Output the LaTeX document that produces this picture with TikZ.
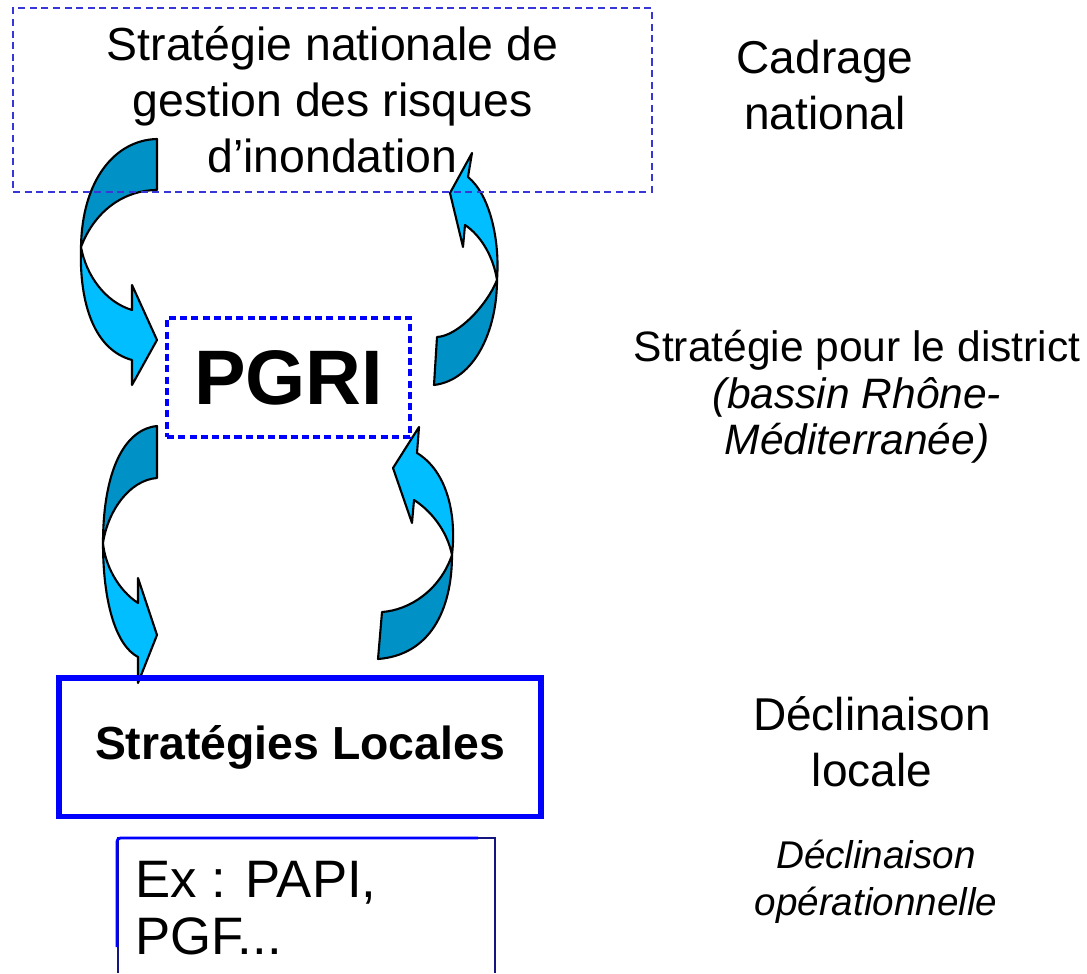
\documentclass[tikz,border=0pt]{standalone}
\usepackage{fontspec}
\setmainfont{Liberation Sans}
\usetikzlibrary{positioning}
\definecolor{ribbondark}{RGB}{0,146,199}
\definecolor{ribbonlight}{RGB}{0,190,255}
\definecolor{dashblue}{RGB}{55,55,215}
\definecolor{framenavy}{RGB}{20,20,130}
\tikzstyle{dashbox}     = [draw=dashblue, line width=1.5pt, dash pattern=on 4pt off 2.6pt, inner sep=0pt]
\tikzstyle{pgribox}     = [draw=blue, line width=1.8pt, dash pattern=on 4pt off 2.4pt, inner sep=0pt]
\tikzstyle{localbox}    = [draw=blue, line width=3.4pt, inner sep=0pt]
\tikzstyle{ribbonback}  = [fill=ribbondark, draw=black, line width=1.2pt, line join=round]
\tikzstyle{ribbonfront} = [fill=ribbonlight, draw=black, line width=1.2pt, line join=round]
\tikzstyle{side}        = [align=center, inner sep=0pt]

\begin{document}
\begin{tikzpicture}[x=0.02cm, y=-0.02cm]
        \useasboundingbox (0,0) rectangle (1087,973);

        % descending arrow, national -> PGRI
        \filldraw[ribbonback] (157,139) .. controls (115,140) and (82,180) .. (81,247)
            .. controls (95,210) and (125,190) .. (157,190) -- cycle;
        \filldraw[ribbonfront] (81,247) .. controls (79,305) and (95,350) .. (132,360)
            -- (132,385) -- (157,340) -- (132,285) -- (132,310)
            .. controls (105,302) and (86,275) .. (81,247) -- cycle;

        % rising arrow, PGRI -> national
        \filldraw[ribbonback] (434,385) -- (437,337) .. controls (458,336) and (487,305) .. (497,280)
            .. controls (497,330) and (475,380) .. (434,385) -- cycle;
        \filldraw[ribbonfront] (497,280) .. controls (500,240) and (490,195) .. (468,177)
            -- (472,153) -- (450,193) -- (463,247) -- (465,225)
            .. controls (480,235) and (493,255) .. (497,280) -- cycle;

        % descending arrow, PGRI -> local
        \filldraw[ribbonback] (157,426) .. controls (120,430) and (103,480) .. (103,543)
            .. controls (108,510) and (130,480) .. (157,478) -- cycle;
        \filldraw[ribbonfront] (103,543) .. controls (103,600) and (115,645) .. (138,657)
            -- (138,683) -- (157,635) -- (138,578) -- (138,603)
            .. controls (118,590) and (105,565) .. (103,543) -- cycle;

        % rising arrow, local -> PGRI
        \filldraw[ribbonback] (378,659) -- (382,612) .. controls (410,610) and (440,590) .. (452,555)
            .. controls (452,610) and (430,655) .. (378,659) -- cycle;
        \filldraw[ribbonfront] (452,555) .. controls (457,510) and (445,470) .. (417,453)
            -- (419,427) -- (393,468) -- (412,523) -- (414,500)
            .. controls (430,510) and (447,530) .. (452,555) -- cycle;

        % boxes
        \node[dashbox, minimum width=12.78cm, minimum height=3.68cm, align=center,
              font=\fontsize{26.4}{31.9}\selectfont] (nat) at (332.5,100)
              {Stratégie nationale de\\gestion des risques\\d’inondation};
        \node[pgribox, minimum width=4.86cm, minimum height=2.38cm,
              font=\fontsize{44}{50}\selectfont\bfseries] (pgri) at (288.5,377.5) {PGRI};
        \node[localbox, minimum width=9.66cm, minimum height=2.78cm,
              font=\fontsize{26.4}{30}\selectfont\bfseries] (loc) at (300,747) {Stratégies Locales};

        \draw[framenavy, line width=0.6pt] (118,973) |- (495,838) -- (495,973);
        \draw[blue, line width=1.6pt, rounded corners=2pt] (117,947) |- (478,838);
        \node[anchor=west, align=left, inner sep=0pt,
              font=\fontsize{30}{32.4}\selectfont] (ex) at (135,908) {Ex : PAPI,\\PGF...};

        % labels on the right
        \node[side, font=\fontsize{26.2}{31.5}\selectfont] (cadre) at (825,85) {Cadrage\\national};
        \node[side, font=\fontsize{24.2}{26.5}\selectfont] (district) at (857,397)
              {Stratégie pour le district\\\textit{(bassin Rhône-}\\\textit{Méditerranée)}};
        \node[side, font=\fontsize{26.2}{31.9}\selectfont] (decl) at (872,742) {Déclinaison\\locale};
        \node[side, font=\fontsize{22}{26.7}\selectfont\itshape] (oper) at (876,882)
              {Déclinaison\\opérationnelle};
\end{tikzpicture}
\end{document}
